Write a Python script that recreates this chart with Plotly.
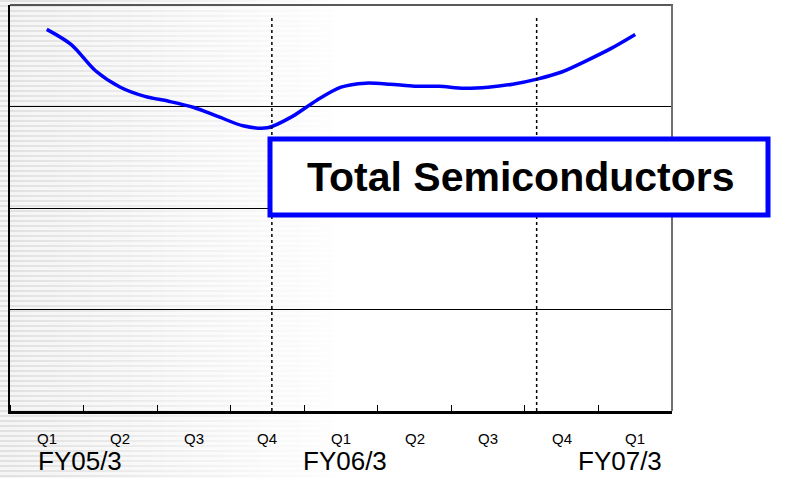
"""
Total Semiconductors trend chart (quarterly, FY05/3 - FY07/3)
"""

import base64
import struct
import zlib

import plotly.graph_objects as go

# Quarter labels along the bottom axis
quarters = ['Q1', 'Q2', 'Q3', 'Q4', 'Q1', 'Q2', 'Q3', 'Q4', 'Q1']
fiscal_years = ['FY05/3', 'FY06/3', 'FY07/3']
fiscal_year_pos = [0.45, 4.05, 7.79]

# Monthly readings (index in months from first Q1, index value)
months = list(range(25))
index_values = [376, 361, 335, 319, 310, 305, 299, 290, 281, 279,
                290, 306, 319, 323, 322, 320, 320, 318, 319, 322,
                327, 334, 345, 357, 371]

# Dotted period markers (in quarter units)
markers = [3.06, 6.66]

title_text = 'Total Semiconductors'

W, H = 791, 478
FONT = 'Arial, Liberation Sans'


def px_x(p):
    return p / W


def px_y(p):
    return 1 - p / H


def striped_background(width=80, height=H):
    """Small grayscale PNG: horizontal stripes fading out to the right."""
    rows = b''
    for r in range(height):
        dark = (r % 5) < 2
        row = bytearray([0])
        for c in range(width):
            x = c * W / width
            fade = max(0.0, 1 - x / 340)
            depth = 30 if dark else 10
            row.append(int(round(255 - depth * fade)))
        rows += bytes(row)

    def chunk(tag, data):
        body = tag + data
        return struct.pack('>I', len(data)) + body + struct.pack('>I', zlib.crc32(body) & 0xffffffff)

    png = b'\x89PNG\r\n\x1a\n'
    png += chunk(b'IHDR', struct.pack('>IIBBBBB', width, height, 8, 0, 0, 0, 0))
    png += chunk(b'IDAT', zlib.compress(rows, 9))
    png += chunk(b'IEND', b'')
    return 'data:image/png;base64,' + base64.b64encode(png).decode()


fig = go.Figure()

fig.add_trace(go.Scatter(
    x=[m / 3 for m in months],
    y=index_values,
    mode='lines',
    line=dict(color='#0000FF', width=3.5, shape='spline', smoothing=0.8),
    hoverinfo='skip',
    showlegend=False
))

shapes = []
for m in markers:
    shapes.append(dict(type='line', xref='x', yref='paper',
                       x0=m, x1=m, y0=px_y(411), y1=px_y(16),
                       line=dict(color='black', width=1.5, dash='dot')))

# top and right frame lines
shapes.append(dict(type='line', xref='paper', yref='paper',
                   x0=px_x(10), x1=px_x(673), y0=px_y(5), y1=px_y(5),
                   line=dict(color='#222222', width=1.5)))
shapes.append(dict(type='line', xref='paper', yref='paper',
                   x0=px_x(672), x1=px_x(672), y0=px_y(5), y1=px_y(411),
                   line=dict(color='#707070', width=2)))

# title box
shapes.append(dict(type='rect', xref='paper', yref='paper',
                   x0=px_x(270), x1=px_x(768), y0=px_y(215), y1=px_y(139),
                   fillcolor='white', line=dict(color='#0000FF', width=5),
                   layer='above'))

annotations = [dict(
    text=f'<b>{title_text}</b>', xref='paper', yref='paper',
    x=px_x(521), y=px_y(177), xanchor='center', yanchor='middle',
    showarrow=False,
    font=dict(family=FONT, size=41, color='black')
)]
for i, q in enumerate(quarters):
    annotations.append(dict(
        text=q, xref='x', yref='paper', x=i, y=px_y(438),
        xanchor='center', yanchor='middle', showarrow=False,
        font=dict(family=FONT, size=15, color='black')
    ))
for label, pos in zip(fiscal_years, fiscal_year_pos):
    annotations.append(dict(
        text=label, xref='x', yref='paper', x=pos, y=px_y(461),
        xanchor='center', yanchor='middle', showarrow=False,
        font=dict(family=FONT, size=26, color='black')
    ))

fig.update_layout(
    width=W,
    height=H,
    margin=dict(l=0, r=0, t=0, b=0),
    paper_bgcolor='white',
    plot_bgcolor='rgba(0,0,0,0)',
    images=[dict(source=striped_background(), xref='paper', yref='paper',
                 x=0, y=1, sizex=1, sizey=1, sizing='stretch',
                 xanchor='left', yanchor='top', layer='below')],
    shapes=shapes,
    annotations=annotations,
    xaxis=dict(
        domain=[px_x(10), px_x(672)],
        range=[-0.5, len(quarters) - 0.5],
        showticklabels=False,
        ticks='',
        minor=dict(tick0=0.5, dtick=1, ticks='inside', ticklen=6,
                   tickcolor='black', tickwidth=1),
        showgrid=False,
        zeroline=False,
        showline=True,
        linecolor='black',
        linewidth=2.5,
        fixedrange=True
    ),
    yaxis=dict(
        domain=[px_y(411), px_y(5)],
        range=[0, 400],
        dtick=100,
        showticklabels=False,
        ticks='',
        showgrid=True,
        gridcolor='black',
        gridwidth=1,
        zeroline=False,
        showline=True,
        linecolor='black',
        linewidth=2,
        fixedrange=True
    )
)

fig.write_html("out.html", config={'displayModeBar': False},
               post_script="document.body.style.margin='0';document.body.style.padding='0';")
